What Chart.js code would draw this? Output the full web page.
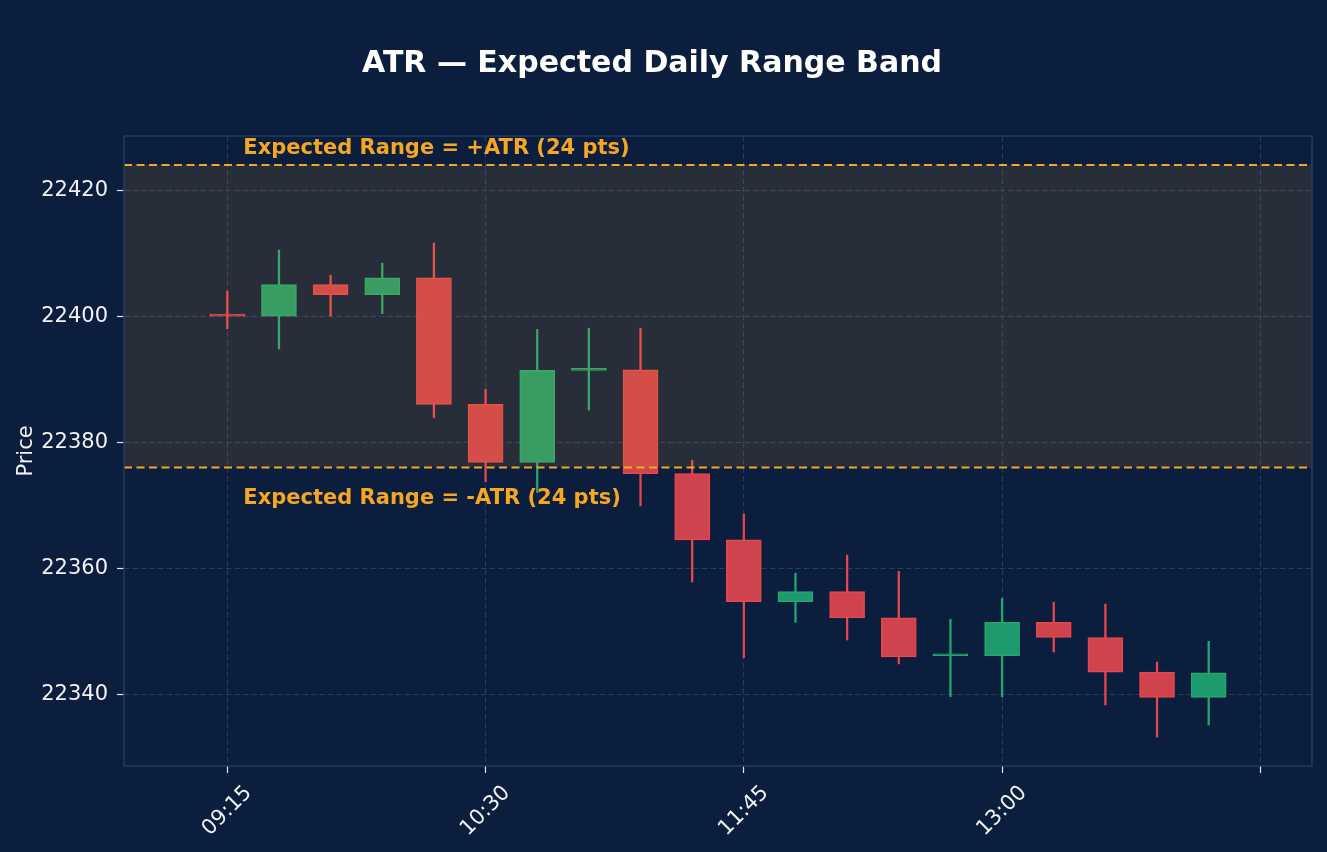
<!DOCTYPE html>
<html><head><meta charset="utf-8">
<script src="https://cdn.jsdelivr.net/npm/chart.js@4.4.1/dist/chart.umd.min.js"></script>
<style>html,body{margin:0;padding:0;background:#0b1e3e;overflow:hidden}#wrap{width:1327px;height:852px}</style>
</head><body><div id="wrap"><canvas id="c" width="1327" height="852"></canvas></div>
<script>
// ---- data ----
const times  = ['09:15','09:30','09:45','10:00','10:15','10:30','10:45','11:00','11:15','11:30',
                '11:45','12:00','12:15','12:30','12:45','13:00','13:15','13:30','13:45','14:00'];
const opens  = [22400, 22400, 22405, 22403.4, 22406.1, 22386, 22376.8, 22391.4, 22391.5, 22375,
                22364.5, 22354.7, 22356.3, 22352.1, 22346.1, 22346.1, 22351.4, 22349, 22343.5, 22339.5];
const highs  = [22404, 22410.5, 22406.5, 22408.4, 22411.6, 22388.4, 22397.9, 22398.1, 22398.1, 22377.1,
                22368.6, 22359.2, 22362.1, 22359.5, 22351.9, 22355.2, 22354.6, 22354.3, 22345.1, 22348.4];
const lows   = [22398, 22394.8, 22400, 22400.4, 22383.9, 22373.7, 22372, 22385.1, 22369.9, 22357.8,
                22345.8, 22351.4, 22348.6, 22344.8, 22339.6, 22339.6, 22346.7, 22338.3, 22333.2, 22335.1];
const closes = [22400, 22405, 22403.4, 22406.1, 22386, 22376.8, 22391.4, 22391.5, 22375, 22364.5,
                22354.7, 22356.3, 22352.1, 22345.9, 22346.2, 22351.4, 22349, 22343.5, 22339.5, 22343.4];
const atrCenter = 22400;
const atrPts = 24;
const yTicks = [22340, 22360, 22380, 22400, 22420];

// ---- styles ----
const BG = '#0b1e3e';
const UP_FILL = '#1e9b6d', UP_EDGE = '#22a872';
const DN_FILL = '#cf434f', DN_EDGE = '#e8474d';
const GRID = '#283b60';
const TXT = '#f2f2f2';
const ORANGE = '#f5a623';

const isUp = closes.map((c, i) => c > opens[i]);
const bodies = opens.map((o, i) => ({x: i, y: [o, closes[i]]}));
const wicks  = lows.map((l, i) => ({x: i, y: [l, highs[i]]}));

const overlay = {
  id: 'overlay',
  beforeDraw(chart) {
    const c = chart.ctx;
    c.save(); c.fillStyle = BG; c.fillRect(0, 0, chart.width, chart.height); c.restore();
  },
  afterDatasetsDraw(chart) {
    const c = chart.ctx, a = chart.chartArea, ys = chart.scales.y, xs = chart.scales.x;
    const yU = ys.getPixelForValue(atrCenter + atrPts), yL = ys.getPixelForValue(atrCenter - atrPts);
    c.save();
    c.fillStyle = 'rgba(245,166,35,0.12)';
    c.fillRect(a.left, yU, a.right - a.left, yL - yU);
    c.strokeStyle = ORANGE; c.lineWidth = 2; c.setLineDash([8, 4.5]);
    [yU, yL].forEach(y => { c.beginPath(); c.moveTo(a.left, y); c.lineTo(a.right, y); c.stroke(); });
    c.setLineDash([]);
    c.fillStyle = ORANGE; c.font = 'bold 21px "DejaVu Sans"'; c.textAlign = 'left'; c.textBaseline = 'alphabetic';
    const tx = xs.getPixelForValue(0.31);
    c.fillText('Expected Range = +ATR (' + atrPts + ' pts)', tx, yU - 11);
    c.fillText('Expected Range = -ATR (' + atrPts + ' pts)', tx, yL + 37);
    // frame
    c.strokeStyle = '#263b62'; c.lineWidth = 1.5;
    c.strokeRect(a.left, a.top, a.right - a.left, a.bottom - a.top);
    // x tick labels (rotated 45, centred on tick)
    c.fillStyle = TXT; c.font = '21px "DejaVu Sans"'; c.textAlign = 'center'; c.textBaseline = 'middle';
    xs.ticks.forEach(t => {
      const lab = times[t.value] || '';
      if (!lab) return;
      const px = xs.getPixelForValue(t.value);
      c.save(); c.translate(px, a.bottom + 45); c.rotate(-Math.PI / 4); c.fillText(lab, 0, 0); c.restore();
    });
    // title
    c.fillStyle = '#ffffff'; c.font = 'bold 30px "DejaVu Sans"'; c.textAlign = 'center'; c.textBaseline = 'alphabetic';
    c.fillText('ATR \u2014 Expected Daily Range Band', 652, 72);
    c.restore();
  }
};

new Chart(document.getElementById('c'), {
  type: 'bar',
  data: {
    datasets: [
      { label: 'body', data: bodies, order: 0, grouped: false,
        backgroundColor: isUp.map(u => u ? UP_FILL : DN_FILL),
        borderColor: isUp.map(u => u ? UP_EDGE : DN_EDGE),
        borderWidth: 1.5, borderSkipped: false, barThickness: 35, minBarLength: 2 },
      { label: 'wick', data: wicks, order: 1, grouped: false,
        backgroundColor: isUp.map(u => u ? UP_EDGE : DN_EDGE),
        borderWidth: 0, barThickness: 1.6 }
    ]
  },
  options: {
    responsive: false, animation: false,
    layout: { padding: { top: 136, right: 15, bottom: 0, left: 0 } },
    plugins: { legend: { display: false }, tooltip: { enabled: false }, title: { display: false } },
    scales: {
      x: {
        type: 'linear', min: -2, max: 21, offset: false,
        ticks: { stepSize: 5, includeBounds: false, display: false },
        grid: { color: GRID, lineWidth: 1, offset: false, drawTicks: true, tickLength: 7, tickColor: '#e6e6e6', tickWidth: 1.2 },
        border: { display: false, dash: [5.5, 3] },
        afterFit(s) { s.height = 86; }
      },
      y: {
        min: 22328.6, max: 22428.6,
        afterBuildTicks(s) { s.ticks = yTicks.map(v => ({ value: v })); },
        ticks: { color: TXT, font: { family: 'DejaVu Sans', size: 21 }, padding: 9, callback: v => String(v) },
        grid: { color: GRID, lineWidth: 1, drawTicks: true, tickLength: 7, tickColor: '#e6e6e6', tickWidth: 1.2 },
        border: { display: false, dash: [5.5, 3] },
        title: { display: true, text: 'Price', color: TXT, font: { family: 'DejaVu Sans', size: 21 }, padding: { top: 14, bottom: 0 } },
        afterFit(s) { s.width = 124; }
      }
    }
  },
  plugins: [overlay]
});
</script>
</body></html>
